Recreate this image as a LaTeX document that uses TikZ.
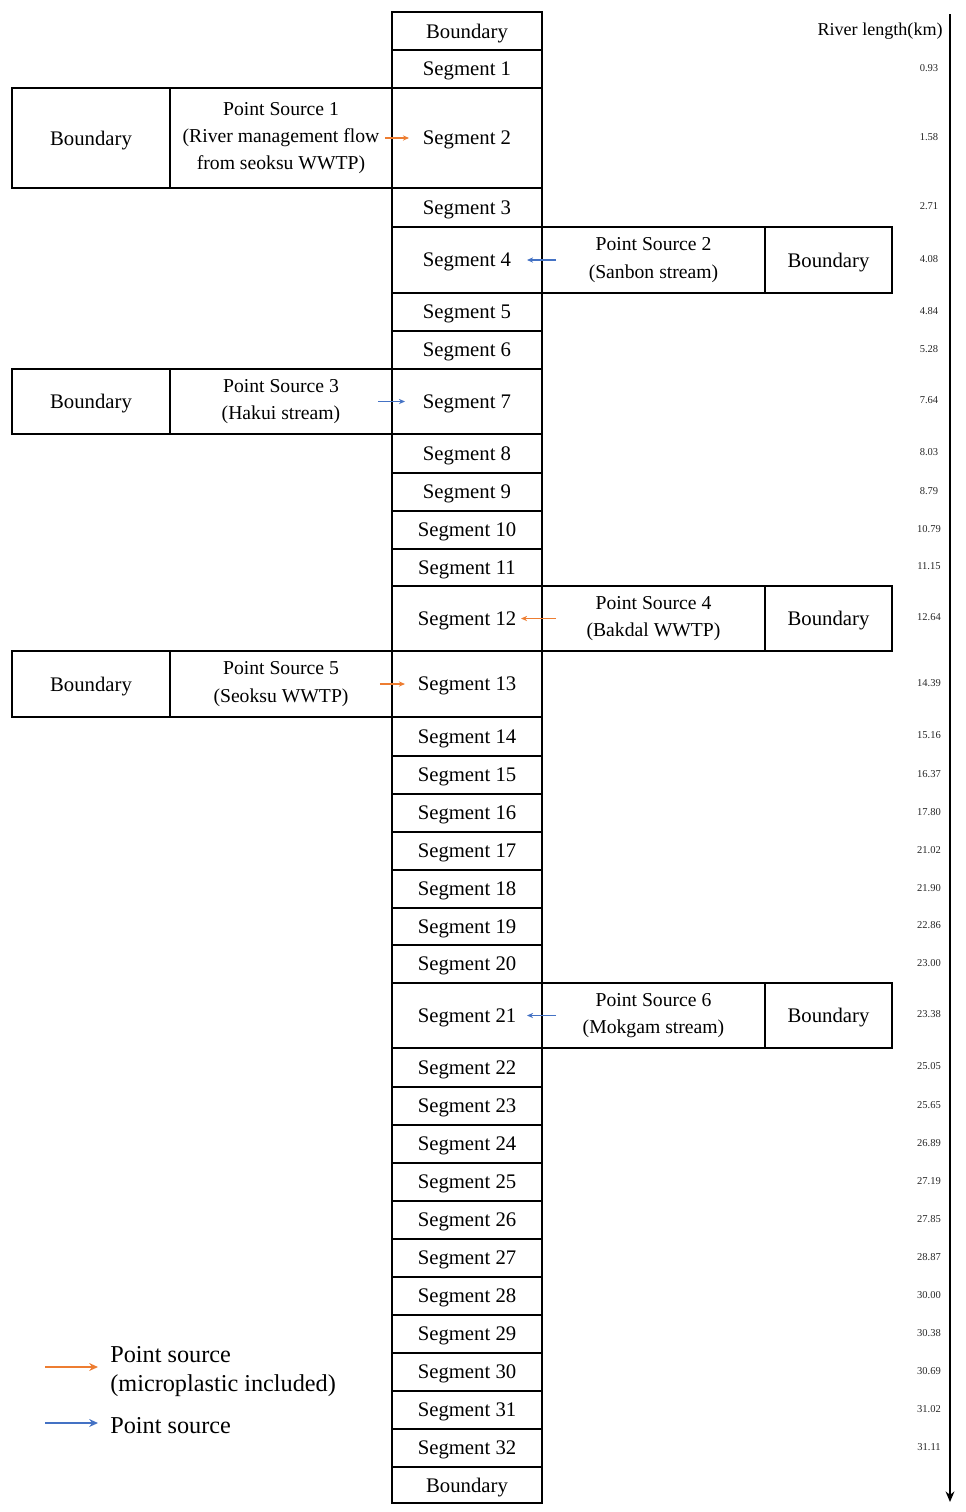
\documentclass[tikz,border=0pt]{standalone}
\usepackage{fontspec}
\setmainfont{Liberation Serif}
\usetikzlibrary{arrows.meta, positioning}
\definecolor{msorange}{RGB}{237,125,49}
\definecolor{psblue}{RGB}{68,114,196}

\begin{document}
\begin{tikzpicture}[x=0.02cm, y=-0.02cm, >=Stealth, font=\fontsize{11.2}{15.5}\selectfont,
	box/.style={draw, rectangle, line width=1pt, inner sep=0pt, outer sep=0pt, align=center},
	segbox/.style={box, minimum width=3cm, font=\fontsize{11.8}{14}\selectfont, text depth=0pt},
	bndbox/.style={box, font=\fontsize{11.8}{14}\selectfont, text depth=0pt},
	kmtext/.style={font=\fontsize{6}{7}\selectfont, text=black!85},
	msflow/.style={msorange, line width=0.6pt, -{Stealth[length=3.5pt, width=3pt]}},
	psflow/.style={psblue, line width=0.6pt, -{Stealth[length=3.5pt, width=3pt]}},
	legflow/.style={line width=1.6pt, -{Stealth[length=5pt, width=4.5pt]}},
	legtext/.style={font=\fontsize{13.8}{16.5}\selectfont, align=left, anchor=west, inner sep=0pt}]
	\useasboundingbox (0,0) rectangle (966,1512);
	
	% main channel
	\node[segbox, minimum height=0.76cm] (bndtop) at (467,31) {Boundary};
	\foreach \n/\ya/\yb/\km in {1/50/88/0.93, 2/88/188/1.58, 3/188/227/2.71, 4/227/293/4.08,
		5/293/331/4.84, 6/331/369/5.28, 7/369/434/7.64, 8/434/473/8.03, 9/473/511/8.79,
		10/511/549/10.79, 11/549/586/11.15, 12/586/651/12.64, 13/651/717/14.39,
		14/717/756/15.16, 15/756/794/16.37, 16/794/832/17.80, 17/832/870/21.02,
		18/870/908/21.90, 19/908/945/22.86, 20/945/983/23.00, 21/983/1048/23.38,
		22/1048/1087/25.05, 23/1087/1125/25.65, 24/1125/1163/26.89, 25/1163/1201/27.19,
		26/1201/1239/27.85, 27/1239/1277/28.87, 28/1277/1315/30.00, 29/1315/1353/30.38,
		30/1353/1391/30.69, 31/1391/1429/31.02, 32/1429/1467/31.11} {
		\node[segbox, minimum height={(\yb-\ya)*0.02cm}] (s\n) at (467,{(\ya+\yb)/2}) {Segment \n};
		\node[kmtext] (km\n) at (929,{(\ya+\yb)/2-1}) {\km};
	}
	\node[segbox, minimum height=0.72cm] (bndbot) at (467,1485) {Boundary};
	
	% point sources, left side
	\node[bndbox, minimum width=3.16cm, minimum height=2cm] (bnd1) at (91,138) {Boundary};
	\node[box, minimum width=4.44cm, minimum height=2cm] (ps1) at (281,138) {Point Source 1\\(River management flow\\from seoksu WWTP)};
	\node[bndbox, minimum width=3.16cm, minimum height=1.3cm] (bnd3) at (91,401.5) {Boundary};
	\node[box, minimum width=4.44cm, minimum height=1.3cm] (ps3) at (281,401.5) {Point Source 3\\(Hakui stream)};
	\node[bndbox, minimum width=3.16cm, minimum height=1.32cm] (bnd5) at (91,684) {Boundary};
	\node[box, minimum width=4.44cm, minimum height=1.32cm] (ps5) at (281,684) {Point Source 5\\(Seoksu WWTP)};
	
	% point sources, right side
	\node[box, minimum width=4.46cm, minimum height=1.32cm] (ps2) at (653.5,260) {Point Source 2\\(Sanbon stream)};
	\node[bndbox, minimum width=2.54cm, minimum height=1.32cm] (bnd2) at (828.5,260) {Boundary};
	\node[box, minimum width=4.46cm, minimum height=1.3cm] (ps4) at (653.5,618.5) {Point Source 4\\(Bakdal WWTP)};
	\node[bndbox, minimum width=2.54cm, minimum height=1.3cm] (bnd4) at (828.5,618.5) {Boundary};
	\node[box, minimum width=4.46cm, minimum height=1.3cm] (ps6) at (653.5,1015.5) {Point Source 6\\(Mokgam stream)};
	\node[bndbox, minimum width=2.54cm, minimum height=1.3cm] (bnd6) at (828.5,1015.5) {Boundary};
	
	% inflows
	\draw[msflow] ([xshift=-0.14cm]ps1.east) -- ([xshift=0.34cm]s2.west);
	\draw[psflow] ([xshift=0.28cm]ps2.west) -- ([xshift=-0.3cm]s4.east);
	\draw[psflow] ([xshift=-0.28cm]ps3.east) -- ([xshift=0.26cm]s7.west);
	\draw[msflow] ([xshift=0.28cm]ps4.west) -- ([xshift=-0.42cm]s12.east);
	\draw[msflow] ([xshift=-0.24cm]ps5.east) -- ([xshift=0.26cm]s13.west);
	\draw[psflow] ([xshift=0.28cm]ps6.west) -- ([xshift=-0.3cm]s21.east);
	
	% river length axis
	\node[font=\fontsize{10.3}{12}\selectfont, anchor=east, inner sep=0pt] (axlabel) at (943,31) {River length(km)};
	\coordinate (axtop) at (950,14);
	\coordinate (axbot) at (950,1502);
	\draw[line width=1.6pt, -{Stealth[length=6pt, width=5pt]}] (axtop) -- (axbot);
	
	% legend
	\node[legtext] (legms) at (110,1372) {Point source\\(microplastic included)};
	\node[legtext] (legps) at (110,1426) {Point source};
	\coordinate (msa) at (45,1367);
	\coordinate (msb) at (98,1367);
	\coordinate (psa) at (45,1423);
	\coordinate (psb) at (98,1423);
	\draw[legflow, msorange] (msa) -- (msb);
	\draw[legflow, psblue] (psa) -- (psb);
\end{tikzpicture}
\end{document}
